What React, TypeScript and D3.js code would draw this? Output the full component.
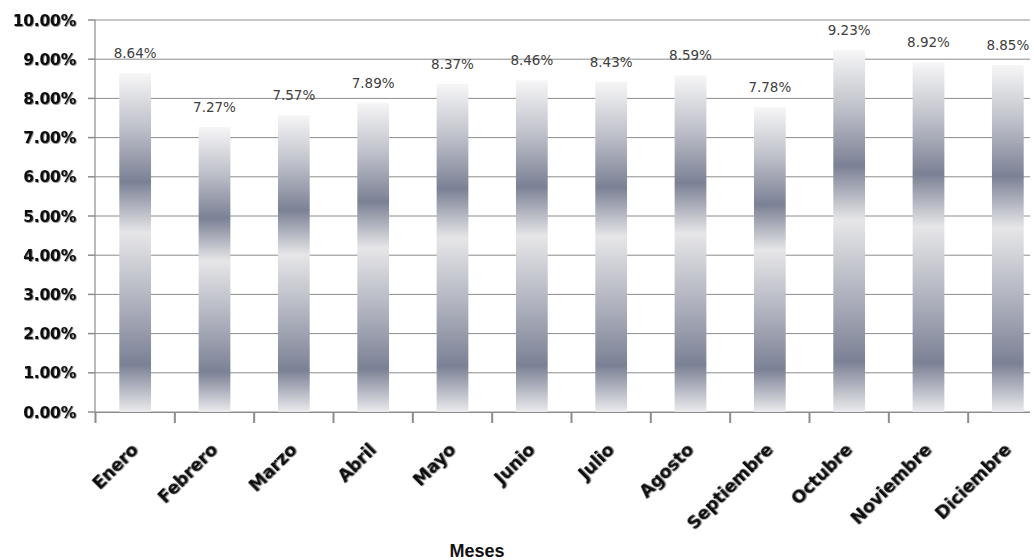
import React from 'react';
import { scaleBand, scaleLinear, range } from 'd3';

const months = ['Enero', 'Febrero', 'Marzo', 'Abril', 'Mayo', 'Junio', 'Julio', 'Agosto', 'Septiembre', 'Octubre', 'Noviembre', 'Diciembre'];
const rates = [8.64, 7.27, 7.57, 7.89, 8.37, 8.46, 8.43, 8.59, 7.78, 9.23, 8.92, 8.85];
const yTicks = [0, 1, 2, 3, 4, 5, 6, 7, 8, 9, 10];
const xTitle = 'Meses';

const W = 1034;
const H = 560;
const left = 95;
const top = 20;
const bottom = 412;
const gridRight = 1030;

export default function App() {
  const x = scaleBand<string>().domain(months).range([left + 0.5, 1047.5]).padding(0);
  const y = scaleLinear().domain([0, 10]).range([bottom, top]);
  const step = x.step();
  const barW = step * 0.4;

  return (
    <svg width={W} height={H} style={{ position: 'absolute', left: 0, top: 0, background: '#fff' }}>
      <defs>
        <linearGradient id="barGrad" x1="0" y1="0" x2="0" y2="1">
          <stop offset="0" stopColor="#f6f6f7" />
          <stop offset="0.16" stopColor="#bfc1ca" />
          <stop offset="0.32" stopColor="#7b8195" />
          <stop offset="0.47" stopColor="#e6e6e8" />
          <stop offset="0.68" stopColor="#aeb1bd" />
          <stop offset="0.86" stopColor="#7b8195" />
          <stop offset="1" stopColor="#ebebed" />
        </linearGradient>
        <filter id="shadow" x="-10%" y="-30%" width="130%" height="170%">
          <feDropShadow dx="0.8" dy="0.8" stdDeviation="0.7" floodColor="#000" floodOpacity="0.55" />
        </filter>
      </defs>

      {/* gridlines */}
      {yTicks.map(t => (
        <line key={'g' + t} x1={left} x2={gridRight} y1={y(t)} y2={y(t)} stroke="#8c8c8c" strokeWidth={1} />
      ))}

      {/* y axis */}
      <line x1={left} x2={left} y1={top} y2={bottom} stroke="#8c8c8c" strokeWidth={1.2} />
      {yTicks.map(t => (
        <g key={'yt' + t}>
          <line x1={left - 7} x2={left} y1={y(t)} y2={y(t)} stroke="#8c8c8c" strokeWidth={1.5} />
          <text x={76} y={y(t)} dy="0.36em" textAnchor="end" fontFamily="DejaVu Sans" fontWeight="bold"
            fontSize={15.5} fill="#111" filter="url(#shadow)" letterSpacing={-0.2}>
            {t.toFixed(2) + '%'}
          </text>
        </g>
      ))}

      {/* bars */}
      {months.map((m, i) => {
        const bx = (x(m) as number) + (step - barW) / 2;
        return (
          <rect key={m} x={bx} y={y(rates[i])} width={barW} height={bottom - y(rates[i])} fill="url(#barGrad)" />
        );
      })}

      {/* x axis */}
      <line x1={left} x2={gridRight} y1={bottom + 0.5} y2={bottom + 0.5} stroke="#8c8c8c" strokeWidth={1.2} />
      {range(months.length).map(i => {
        const tx = left + 0.5 + i * step;
        return <line key={'xt' + i} x1={tx} x2={tx} y1={bottom} y2={bottom + 11} stroke="#8c8c8c" strokeWidth={2} />;
      })}

      {/* data labels */}
      {months.map((m, i) => (
        <text key={'l' + m} x={(x(m) as number) + step / 2} y={y(rates[i]) - 15} textAnchor="middle"
          fontFamily="DejaVu Sans" fontSize={13.5} fill="#404040">
          {rates[i].toFixed(2) + '%'}
        </text>
      ))}

      {/* category labels */}
      {months.map(m => {
        const cx = (x(m) as number) + step / 2 + 4;
        const cy = 451;
        return (
          <text key={'c' + m} x={cx} y={cy} textAnchor="end" transform={`rotate(-45, ${cx}, ${cy})`}
            fontFamily="DejaVu Sans" fontWeight="bold" fontSize={17.5} fill="#111" filter="url(#shadow)" letterSpacing={-0.2}>
            {m}
          </text>
        );
      })}

      <text x={477} y={557} textAnchor="middle" fontFamily="Liberation Sans" fontWeight="bold" fontSize={18} fill="#111">
        {xTitle}
      </text>
    </svg>
  );
}
